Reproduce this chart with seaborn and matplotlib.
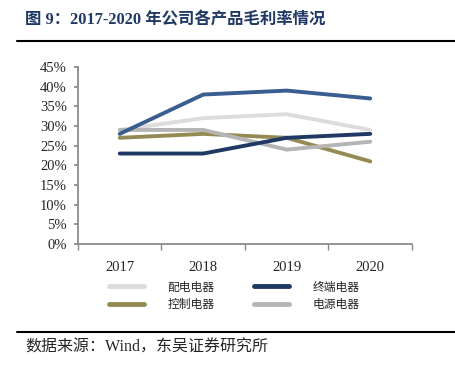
import numpy as np
import pandas as pd
import matplotlib
matplotlib.use("Agg")
import matplotlib.pyplot as plt
import seaborn as sns
from matplotlib.lines import Line2D

sns.set_theme(style="ticks")
plt.rcParams['font.family'] = ['Liberation Serif', 'Noto Sans CJK SC', 'DejaVu Sans']

# data
years = ['2017', '2018', '2019', '2020']
peidian = [29, 32, 33, 29]      # 配电电器
zhongduan = [23, 23, 27, 28]    # 终端电器
kongzhi = [27, 28, 27, 21]      # 控制电器
dianyuan = [29, 29, 24, 26]     # 电源电器
overall = [28, 38, 39, 37]      # blue line, no legend entry in source

series = [
    ('配电电器', peidian, '#dcdcdc'),
    ('控制电器', kongzhi, '#948a54'),
    ('电源电器', dianyuan, '#b5b5b5'),
    ('终端电器', zhongduan, '#1f3864'),
    ('_overall', overall, '#3b5e91'),
]

fig = plt.figure(figsize=(4.56, 3.71), dpi=100)
ax = fig.add_axes([78 / 456, 1 - 244 / 371, (412 - 78) / 456, (244 - 67) / 371])

for name, vals, col in series:
    sns.lineplot(x=years, y=vals, ax=ax, color=col, lw=2.8, legend=False)

ax.set_xlim(-0.5, 3.5)
ax.set_ylim(0, 45)
ax.set_yticks(np.arange(0, 46, 5))
ax.set_yticklabels([f'{v}%' for v in range(0, 46, 5)], fontsize=10.5)
ax.set_xticks(range(len(years)))
ax.set_xticklabels(years, fontsize=10.5)
ax.tick_params(axis='x', length=0, pad=12)
ax.tick_params(axis='y', length=3, color='#888888', pad=5)
# boundary tick marks between categories
ax.set_xticks(np.arange(-0.5, 3.6, 1), minor=True)
ax.tick_params(axis='x', which='minor', length=4, color='#888888')
ax.spines['top'].set_visible(False)
ax.spines['right'].set_visible(False)
ax.spines['left'].set_color('#888888')
ax.spines['bottom'].set_color('#888888')
ax.set_xlabel('')
ax.set_ylabel('')

handles = [Line2D([], [], color=c, lw=3.5) for n, v, c in series if not n.startswith('_')]
labels = [n for n, v, c in series if not n.startswith('_')]
order = [0, 1, 3, 2]
fig.legend([handles[i] for i in order], [labels[i] for i in order],
           ncol=2, loc='upper left', bbox_to_anchor=(98 / 456, 1 - 270 / 371),
           frameon=False, handlelength=3.0, handletextpad=2.0, columnspacing=3.3,
           labelspacing=0.35, prop={'family': ['Noto Sans CJK SC'], 'size': 8.5})

# title, rules, source
fig.text(25 / 456, 1 - 20 / 371, '图 9：2017-2020 年公司各产品毛利率情况',
         fontsize=11.8, fontweight='bold', color='#1f3864', va='center',
         family=['Liberation Serif', 'Noto Sans CJK SC'])
fig.add_artist(Line2D([17 / 456, 1], [1 - 41 / 371] * 2, color='black', lw=1.5))
fig.add_artist(Line2D([17 / 456, 1], [1 - 332 / 371] * 2, color='black', lw=1.5))
fig.text(25 / 456, 1 - 348 / 371, '数据来源：Wind，东吴证券研究所',
         fontsize=11.5, va='center', family=['Liberation Serif', 'Noto Sans CJK SC'])

fig.savefig('out.png', dpi=100)
